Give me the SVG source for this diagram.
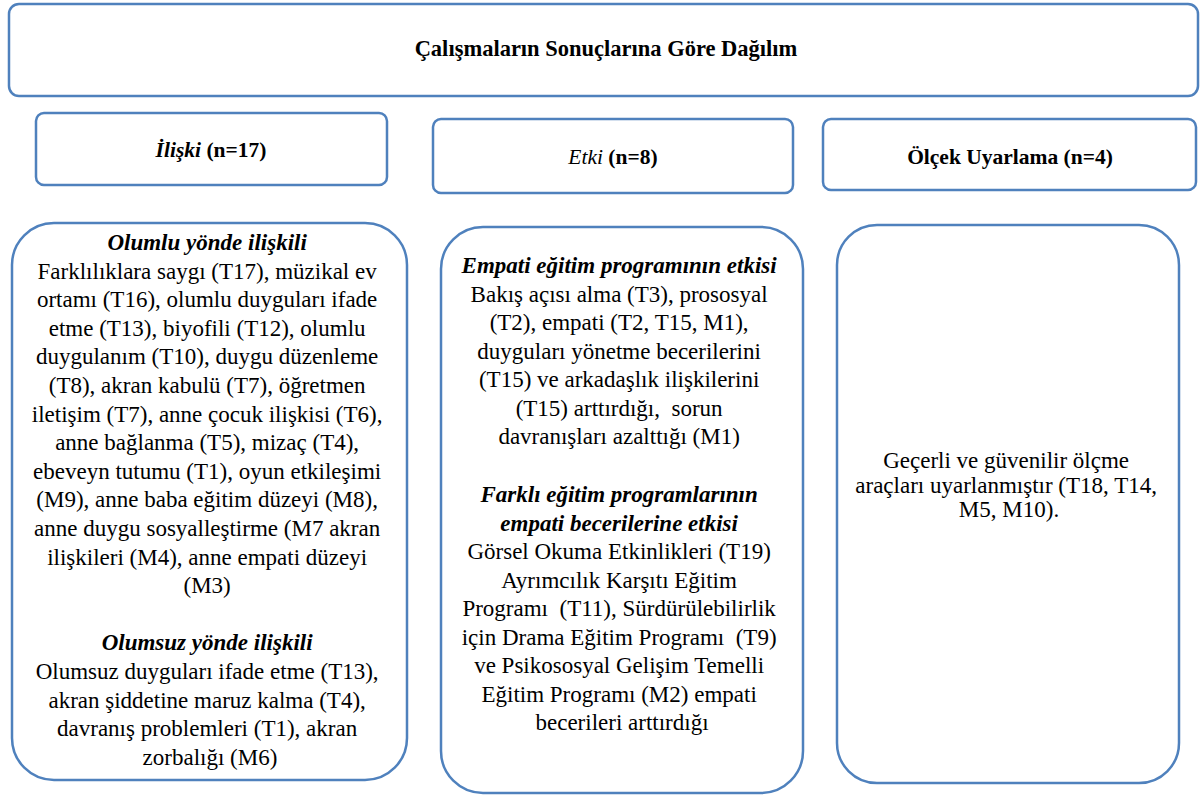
<svg xmlns="http://www.w3.org/2000/svg" width="1200" height="796" viewBox="0 0 1200 796">
<style>
.box{fill:#ffffff;stroke:#4F81BD;stroke-width:2.5}
text{font-family:"Liberation Serif","DejaVu Serif",serif;fill:#000;text-anchor:middle}
.t{font-size:22.5px;font-weight:bold}
.h{font-size:21.5px;font-weight:bold}
.b{font-size:23px}
.i{font-style:italic;font-weight:bold}
</style>
<rect width="1200" height="796" fill="#ffffff"/>
<g id="title">
<rect class="box" x="9" y="4" width="1189" height="92" rx="10"/>
<text class="t" x="606" y="56">Çalışmaların Sonuçlarına Göre Dağılım</text>
</g>
<g id="h-iliski">
<rect class="box" x="36" y="113" width="351" height="72" rx="8"/>
<text class="h" x="211" y="157"><tspan font-style="italic">İlişki</tspan> (n=17)</text>
</g>
<g id="h-etki">
<rect class="box" x="433" y="119" width="360" height="74" rx="8"/>
<text class="h" x="613" y="164"><tspan font-style="italic" font-weight="normal">Etki</tspan> (n=8)</text>
</g>
<g id="h-olcek">
<rect class="box" x="823" y="119" width="373" height="71" rx="8"/>
<text class="h" x="1010" y="164">Ölçek Uyarlama (n=4)</text>
</g>
<g id="c-iliski">
<rect class="box" x="12" y="223" width="395" height="557" rx="42"/>
<text class="b">
<tspan class="i" x="210" y="250">Olumlu yönde ilişkili</tspan>
<tspan x="210" y="278.6">Farklılıklara saygı (T17), müzikal ev</tspan>
<tspan x="210" y="307.2">ortamı (T16), olumlu duyguları ifade</tspan>
<tspan x="210" y="335.8">etme (T13), biyofili (T12), olumlu</tspan>
<tspan x="210" y="364.4">duygulanım (T10), duygu düzenleme</tspan>
<tspan x="210" y="393">(T8), akran kabulü (T7), öğretmen</tspan>
<tspan x="210" y="421.6">iletişim (T7), anne çocuk ilişkisi (T6),</tspan>
<tspan x="210" y="450.2">anne bağlanma (T5), mizaç (T4),</tspan>
<tspan x="210" y="478.8">ebeveyn tutumu (T1), oyun etkileşimi</tspan>
<tspan x="210" y="507.4">(M9), anne baba eğitim düzeyi (M8),</tspan>
<tspan x="210" y="536">anne duygu sosyalleştirme (M7 akran</tspan>
<tspan x="210" y="564.6">ilişkileri (M4), anne empati düzeyi</tspan>
<tspan x="210" y="593.2">(M3)</tspan>
<tspan class="i" x="210" y="650.4">Olumsuz yönde ilişkili</tspan>
<tspan x="210" y="679">Olumsuz duyguları ifade etme (T13),</tspan>
<tspan x="210" y="707.6">akran şiddetine maruz kalma (T4),</tspan>
<tspan x="210" y="736.2">davranış problemleri (T1), akran</tspan>
<tspan x="210" y="764.8">zorbalığı (M6)</tspan>
</text>
</g>
<g id="c-etki">
<rect class="box" x="441" y="227" width="362" height="566" rx="42"/>
<text class="b">
<tspan class="i" x="622" y="273">Empati eğitim programının etkisi</tspan>
<tspan x="622" y="301.5">Bakış açısı alma (T3), prososyal</tspan>
<tspan x="622" y="330">(T2), empati (T2, T15, M1),</tspan>
<tspan x="622" y="358.5">duyguları yönetme becerilerini</tspan>
<tspan x="622" y="387">(T15) ve arkadaşlık ilişkilerini</tspan>
<tspan x="622" y="415.5">(T15) arttırdığı,&#160; sorun</tspan>
<tspan x="622" y="444">davranışları azalttığı (M1)</tspan>
<tspan class="i" x="622" y="502">Farklı eğitim programlarının</tspan>
<tspan class="i" x="622" y="530.5">empati becerilerine etkisi</tspan>
<tspan x="622" y="559">Görsel Okuma Etkinlikleri (T19)</tspan>
<tspan x="622" y="587.5">Ayrımcılık Karşıtı Eğitim</tspan>
<tspan x="622" y="616">Programı&#160; (T11), Sürdürülebilirlik</tspan>
<tspan x="622" y="644.5">için Drama Eğitim Programı&#160; (T9)</tspan>
<tspan x="622" y="673">ve Psikososyal Gelişim Temelli</tspan>
<tspan x="622" y="701.5">Eğitim Programı (M2) empati</tspan>
<tspan x="622" y="730">becerileri arttırdığı</tspan>
</text>
</g>
<g id="c-olcek">
<rect class="box" x="837" y="225" width="342" height="558" rx="40"/>
<text class="b">
<tspan x="1009" y="468">Geçerli ve güvenilir ölçme</tspan>
<tspan x="1009" y="492.5">araçları uyarlanmıştır (T18, T14,</tspan>
<tspan x="1009" y="517">M5, M10).</tspan>
</text>
</g>
<g id="connectors"></g>
</svg>
